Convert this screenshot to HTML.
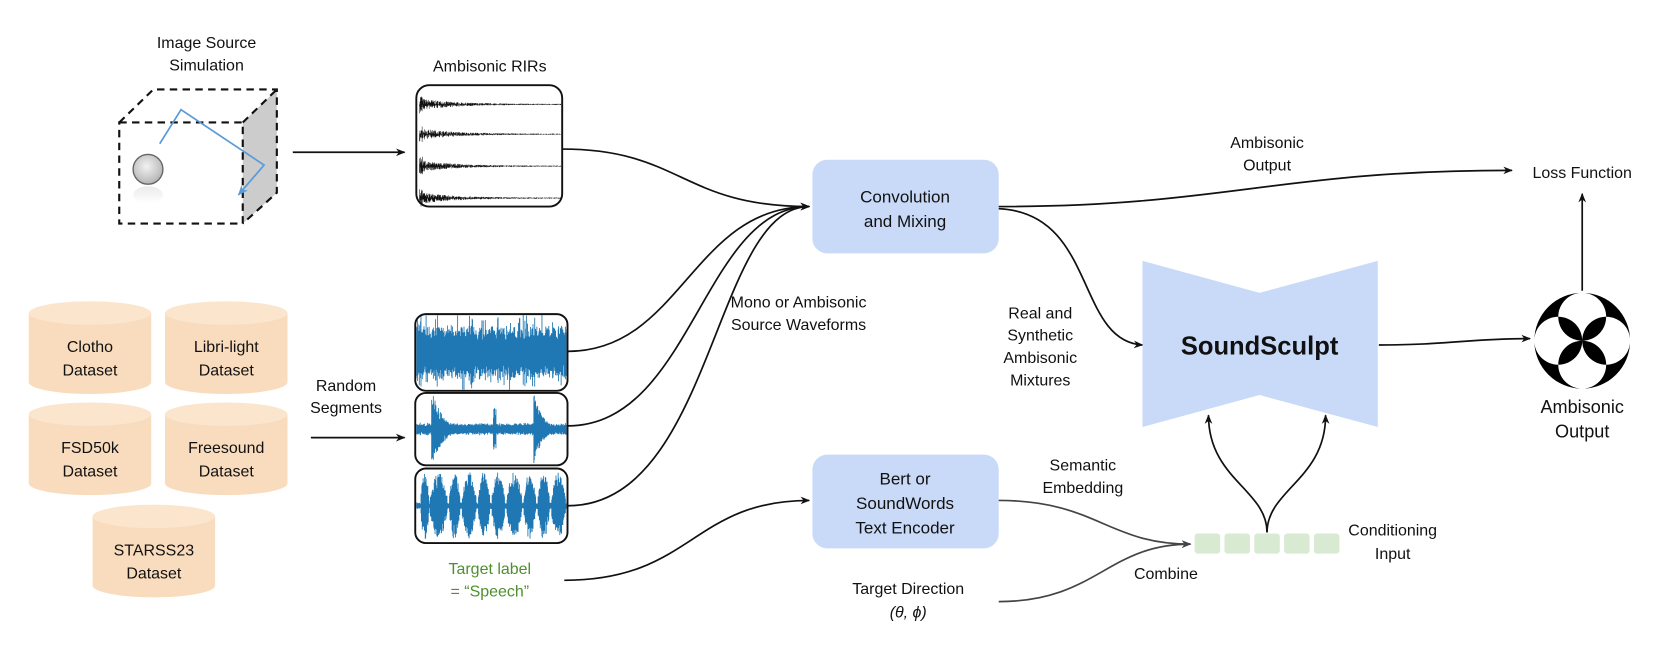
<!DOCTYPE html>
<html><head><meta charset="utf-8"><style>
html,body{margin:0;padding:0;background:#fff;}
svg{display:block;}
text{font-family:"Liberation Sans",sans-serif;fill:#111;}
</style></head><body>
<svg id="s" width="1661" height="664" viewBox="0 0 1560 623.6" xmlns="http://www.w3.org/2000/svg">
<defs>
<marker id="ah" viewBox="0 0 10 10" refX="9" refY="5" markerWidth="9" markerHeight="9" orient="auto" markerUnits="userSpaceOnUse"><path d="M0,1 L10,5 L0,9 L3,5 Z" fill="#111"/></marker>
<marker id="ahg" viewBox="0 0 10 10" refX="9" refY="5" markerWidth="9" markerHeight="9" orient="auto" markerUnits="userSpaceOnUse"><path d="M0,1 L10,5 L0,9 L3,5 Z" fill="#444"/></marker>
<marker id="ahb" viewBox="0 0 10 10" refX="9" refY="5" markerWidth="10" markerHeight="10" orient="auto" markerUnits="userSpaceOnUse"><path d="M0,1 L10,5 L0,9 L3,5 Z" fill="#5b9bd5"/></marker>
<radialGradient id="sph" cx="0.45" cy="0.4" r="0.6"><stop offset="0" stop-color="#f2f2f2"/><stop offset="1" stop-color="#b5b5b5"/></radialGradient>
<linearGradient id="refl" x1="0" y1="0" x2="0" y2="1"><stop offset="0" stop-color="#ddd"/><stop offset="1" stop-color="#fff"/></linearGradient>
<clipPath id="c1"><rect x="391" y="296" width="141" height="70" rx="9"/></clipPath>
<clipPath id="c2"><rect x="391" y="370" width="141" height="66" rx="9"/></clipPath>
<clipPath id="c3"><rect x="391" y="441" width="141" height="68" rx="9"/></clipPath>
</defs>

<!-- Cube -->
<text x="194" y="45" font-size="15" text-anchor="middle">Image Source</text>
<text x="194" y="66" font-size="15" text-anchor="middle">Simulation</text>
<polygon points="228,115 260,84 260,181 228,210" fill="#cccccc"/>
<g fill="none" stroke="#111" stroke-width="2" stroke-dasharray="7,5">
<path d="M112,115 L144,84 L260,84 L260,181 L228,210"/>
<rect x="112" y="115" width="116" height="95"/>
<path d="M228,115 L260,84"/>
</g>
<circle cx="139" cy="159" r="14" fill="url(#sph)" stroke="#666" stroke-width="1.3"/>
<ellipse cx="139" cy="183" rx="14" ry="8" fill="url(#refl)" opacity="0.6"/>
<path d="M150,135 L170,103 L248,155 L224,183" fill="none" stroke="#5b9bd5" stroke-width="1.6" marker-end="url(#ahb)"/>
<line x1="275" y1="143" x2="380" y2="143" stroke="#111" stroke-width="1.6" marker-end="url(#ah)"/>

<!-- RIRs -->
<text x="460" y="67" font-size="15" text-anchor="middle">Ambisonic RIRs</text>
<rect x="391" y="80" width="137" height="114" rx="12" fill="#fff" stroke="#111" stroke-width="1.8"/>
<g id="rir" stroke="#111" stroke-width="0.5" fill="none"></g>

<!-- Waveforms -->
<g id="wf"></g>
<rect x="390" y="295" width="143" height="72" rx="10" fill="none" stroke="#111" stroke-width="1.8"/>
<rect x="390" y="369" width="143" height="68" rx="10" fill="none" stroke="#111" stroke-width="1.8"/>
<rect x="390" y="440" width="143" height="70" rx="10" fill="none" stroke="#111" stroke-width="1.8"/>

<!-- Cylinders -->
<g id="cyl"></g>
<text x="325" y="367" font-size="15" text-anchor="middle">Random</text>
<text x="325" y="388" font-size="15" text-anchor="middle">Segments</text>
<line x1="292" y1="411" x2="380" y2="411" stroke="#111" stroke-width="1.6" marker-end="url(#ah)"/>

<text x="460" y="539" font-size="15" text-anchor="middle" style="fill:#4e8f2e">Target label</text>
<text x="460" y="560" font-size="15" text-anchor="middle" style="fill:#4e8f2e">= “Speech”</text>

<!-- Blue boxes -->
<rect x="763" y="150" width="175" height="88" rx="14" fill="#c9daf8"/>
<text x="850" y="190" font-size="16" text-anchor="middle">Convolution</text>
<text x="850" y="213" font-size="16" text-anchor="middle">and Mixing</text>
<rect x="763" y="427" width="175" height="88" rx="14" fill="#c9daf8"/>
<text x="850" y="455" font-size="16" text-anchor="middle">Bert or</text>
<text x="850" y="478" font-size="16" text-anchor="middle">SoundWords</text>
<text x="850" y="501" font-size="16" text-anchor="middle">Text Encoder</text>

<!-- connectors -->
<g fill="none" stroke="#111" stroke-width="1.6">
<path d="M528,140 C640,140 640,194 760,194" marker-end="url(#ah)"/>
<path d="M533,330 C640,330 650,194 760,194" marker-end="url(#ah)"/>
<path d="M533,400 C650,400 660,194 760,194" marker-end="url(#ah)"/>
<path d="M533,475 C670,475 670,194 760,194" marker-end="url(#ah)"/>
<path d="M530,545 C650,545 650,470 760,470" marker-end="url(#ah)"/>
<path d="M938,194 C1150,194 1200,160 1420,160" marker-end="url(#ah)"/>
<path d="M938,196 C1030,200 1010,320 1073,324" marker-end="url(#ah)"/>
<path d="M1295,324 C1360,324 1380,318 1437,318" marker-end="url(#ah)"/>
<path d="M1486,273 L1486,182" marker-end="url(#ah)"/>
<path d="M1190,500 C1190,460 1135,450 1135,390" marker-end="url(#ah)"/>
<path d="M1190,500 C1190,460 1245,450 1245,390" marker-end="url(#ah)"/>
</g>
<g fill="none" stroke="#444" stroke-width="1.6">
<path d="M938,470 C1030,470 1040,511 1118,511" marker-end="url(#ahg)"/>
<path d="M938,565 C1030,565 1040,511 1118,511" marker-end="url(#ahg)"/>
</g>

<text x="750" y="289" font-size="15" text-anchor="middle">Mono or Ambisonic</text>
<text x="750" y="310" font-size="15" text-anchor="middle">Source Waveforms</text>
<text x="1190" y="139" font-size="15" text-anchor="middle">Ambisonic</text>
<text x="1190" y="160" font-size="15" text-anchor="middle">Output</text>
<text x="1486" y="167" font-size="15" text-anchor="middle">Loss Function</text>
<text x="977" y="299" font-size="15" text-anchor="middle">Real and</text>
<text x="977" y="320" font-size="15" text-anchor="middle">Synthetic</text>
<text x="977" y="341" font-size="15" text-anchor="middle">Ambisonic</text>
<text x="977" y="362" font-size="15" text-anchor="middle">Mixtures</text>
<text x="1017" y="442" font-size="15" text-anchor="middle">Semantic</text>
<text x="1017" y="463" font-size="15" text-anchor="middle">Embedding</text>
<text x="1095" y="544" font-size="15" text-anchor="middle">Combine</text>
<text x="1308" y="503" font-size="15" text-anchor="middle">Conditioning</text>
<text x="1308" y="525" font-size="15" text-anchor="middle">Input</text>
<text x="853" y="558" font-size="15" text-anchor="middle">Target Direction</text>
<text x="853" y="580" font-size="15" text-anchor="middle" font-style="italic">(θ, ϕ)</text>

<!-- SoundSculpt -->
<polygon points="1073,245 1183,275 1294,245 1294,401 1183,371 1073,401" fill="#c9daf8"/>
<text x="1183" y="333" font-size="24" font-weight="bold" text-anchor="middle">SoundSculpt</text>

<g fill="#d9ead3">
<rect x="1122" y="501" width="24" height="19" rx="3"/>
<rect x="1150" y="501" width="24" height="19" rx="3"/>
<rect x="1178" y="501" width="24" height="19" rx="3"/>
<rect x="1206" y="501" width="24" height="19" rx="3"/>
<rect x="1234" y="501" width="24" height="19" rx="3"/>
</g>

<!-- Ambisonic icon -->
<g transform="translate(1486,320)">
<path fill="#000" fill-rule="evenodd" d="M-45,0 a45,45 0 1,0 90,0 a45,45 0 1,0 -90,0 Z
M-45,0 a22.5,22.5 0 1,0 45,0 a22.5,22.5 0 1,0 -45,0 Z
M0,0 a22.5,22.5 0 1,0 45,0 a22.5,22.5 0 1,0 -45,0 Z
M-22.5,-22.5 a22.5,22.5 0 1,0 45,0 a22.5,22.5 0 1,0 -45,0 Z
M-22.5,22.5 a22.5,22.5 0 1,0 45,0 a22.5,22.5 0 1,0 -45,0 Z"/>
</g>
<text x="1486" y="388" font-size="17" text-anchor="middle">Ambisonic</text>
<text x="1486" y="411" font-size="17" text-anchor="middle">Output</text>
</svg>
<script>
(function(){
var NS="http://www.w3.org/2000/svg";
var seed=7;function r(){seed=(seed*16807)%2147483647;return seed/2147483647;}
function el(t,a,p){var e=document.createElementNS(NS,t);for(var k in a)e.setAttribute(k,a[k]);p.appendChild(e);return e;}
var cyl=document.getElementById('cyl');
var cs=[[27,283,"Clotho","Dataset"],[155,283,"Libri-light","Dataset"],[27,378,"FSD50k","Dataset"],[155,378,"Freesound","Dataset"],[87,474,"STARSS23","Dataset"]];
cs.forEach(function(c){var x=c[0],y=c[1],w=115,h=87,ry=11;
el('path',{d:'M'+x+','+(y+ry)+' L'+x+','+(y+h-ry)+' A'+(w/2)+','+ry+' 0 0,0 '+(x+w)+','+(y+h-ry)+' L'+(x+w)+','+(y+ry)+' Z',fill:'#f9dcbd'},cyl);
el('ellipse',{cx:x+w/2,cy:y+ry,rx:w/2,ry:ry,fill:'#fbe5cd'},cyl);
var t=el('text',{x:x+w/2,y:y+h/2+4,'font-size':15,'text-anchor':'middle'},cyl);t.textContent=c[2];
var t2=el('text',{x:x+w/2,y:y+h/2+26,'font-size':15,'text-anchor':'middle'},cyl);t2.textContent=c[3];});
var g=document.getElementById('rir');
[98,126,156,186].forEach(function(y0){var d='';for(var x=394;x<527;x+=0.35){var a=Math.exp(-(x-396)/30)*5+0.5;if(x<397)a=9;d+='M'+x.toFixed(2)+','+(y0-a*r()).toFixed(1)+' L'+x.toFixed(2)+','+(y0+a*r()).toFixed(1)+' ';}el('path',{d:d},g);});
var wf=document.getElementById('wf');
function wave(y0,h,env,clip){var d='';for(var x=391;x<533;x+=0.4){var a=env(x)*h;var p=0.5+0.5*r();d+='M'+x.toFixed(1)+','+(y0-a*p).toFixed(1)+' L'+x.toFixed(1)+','+(y0+a*(0.5+0.5*r())).toFixed(1)+' ';}el('path',{d:d,stroke:'#1f77b4','stroke-width':0.8,fill:'none','clip-path':'url(#'+clip+')'},wf);}
wave(331,36,function(x){var v=0.55+0.2*r();if(r()<0.15)v=1;return v;},'c1');
wave(403,34,function(x){var b=0.13+0.05*r();if(x>405&&x<435)b=Math.max(b,0.95*Math.exp(-(x-407)/10));if(x>463&&x<466)b=0.6;if(x>501&&x<520)b=Math.max(b,0.95*Math.exp(-(x-502)/8));return b;},'c2');
var bursts=[[395,403],[404,420],[422,432],[434,447],[449,460],[462,474],[476,490],[492,503],[505,516],[518,531]];
wave(475,32,function(x){for(var i=0;i<bursts.length;i++){var b=bursts[i];if(x>=b[0]&&x<=b[1]){return 0.3+0.7*Math.sin(Math.PI*(x-b[0])/(b[1]-b[0]));}}return 0.1;},'c3');
})();
</script>
</body></html>
